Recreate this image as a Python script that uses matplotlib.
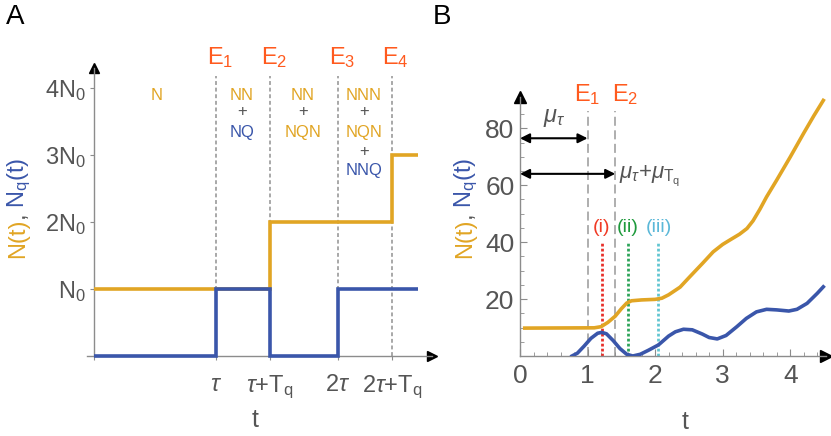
import numpy as np
import matplotlib.pyplot as plt

plt.rcParams['font.family'] = ['Liberation Sans', 'DejaVu Sans']
plt.rcParams['mathtext.fontset'] = 'custom'
plt.rcParams['mathtext.rm'] = 'Liberation Sans'
plt.rcParams['mathtext.it'] = 'Liberation Sans:italic'

YEL = '#E1A524'
BLU = '#3A56AA'
ORG = '#FF5A1E'
GRY = '#555555'
LGR = '#A8A8A8'

# ---- panel A data (time in units of tau, counts in units of N0)
tau = 1.0
Tq = 0.443
edges_A = [0, tau, tau + Tq, 2 * tau, 2 * tau + Tq, 2.656]
N_A = [1, 1, 2, 2, 3]
Nq_A = [0, 1, 0, 1, 1]
xtick_A = [tau, tau + Tq, 2 * tau, 2 * tau + Tq]
xlab_A = [r'$\tau$', r'$\tau$+T$_\mathregular{q}$', r'2$\tau$', r'2$\tau$+T$_\mathregular{q}$']
ytick_A = [1, 2, 3, 4]
ylab_A = [r'N$_0$', r'2N$_0$', r'3N$_0$', r'4N$_0$']
events_A = ['E$_1$', 'E$_2$', 'E$_3$', 'E$_4$']

# ---- panel B data
tN = [0.07, 1.10, 1.20, 1.30, 1.41, 1.50, 1.58, 1.65, 1.80, 2.00, 2.10, 2.20, 2.37, 2.50,
      2.70, 2.86, 3.00, 3.11, 3.25, 3.36, 3.45, 3.55, 3.65, 3.80, 4.00, 4.20, 4.35, 4.49]
N_B = [9.8, 9.9, 10.3, 11.8, 14.0, 16.6, 18.6, 19.4, 19.7, 19.9, 20.3, 21.5, 24.2, 27.5,
       32.5, 36.6, 39.2, 40.8, 42.8, 44.8, 47.5, 51.5, 55.9, 61.8, 69.9, 78.3, 84.4, 89.8]
tQ = [0.77, 0.85, 0.95, 1.05, 1.15, 1.21, 1.28, 1.38, 1.48, 1.58, 1.67, 1.78, 1.90, 2.05,
      2.20, 2.30, 2.42, 2.55, 2.70, 2.80, 2.92, 3.05, 3.21, 3.35, 3.50, 3.65, 3.80, 3.98,
      4.10, 4.25, 4.40, 4.49]
Nq_B = [0.0, 1.0, 3.5, 6.2, 8.0, 8.3, 7.8, 5.4, 2.6, 0.6, 0.0, 0.6, 2.0, 3.9,
        7.0, 8.5, 9.4, 9.2, 7.7, 6.5, 6.0, 7.2, 10.3, 13.2, 15.5, 16.4, 16.2, 15.8,
        16.4, 18.5, 22.0, 24.3]
mu_tau = 1.0
mu_tau_Tq = 1.41
marks_t = [1.21, 1.6, 2.05]
marks_lab = ['(i)', '(ii)', '(iii)']
marks_col = ['#E8302A', '#2EA55A', '#62C6D2']
marks_txt = ['#F03A25', '#1E9A3C', '#5BB8D8']

W, H = 831, 436
fig = plt.figure(figsize=(W / 100, H / 100), dpi=100)


def fx(px):
    return px / W


def fy(py):
    return 1 - py / H


def style_axes(ax):
    for s in ['top', 'right']:
        ax.spines[s].set_visible(False)
    for s in ['left', 'bottom']:
        ax.spines[s].set_color('#8c8c8c')
        ax.spines[s].set_linewidth(1.0)
    ax.tick_params(colors='#8c8c8c', labelcolor=GRY, labelsize=17)


# ================= panel A
axA = fig.add_axes([fx(86.7), fy(356), fx(432 - 86.7), (356 - 68) / H])
style_axes(axA)
axA.set_xlim(-0.06, 2.77)
axA.set_ylim(0, 4.3)
axA.spines['left'].set_position(('data', 0))
axA.plot(1, 0, '>', color='k', ms=7, transform=axA.get_yaxis_transform(), clip_on=False)
axA.plot(0, 1, '^', color='k', ms=7, transform=axA.get_xaxis_transform(), clip_on=False)

for x in xtick_A:
    axA.plot([x, x], [0, 4.18], color=LGR, lw=1.4, ls=(0, (2.0, 1.4)), zorder=1)

axA.stairs(N_A, edges_A, baseline=None, color=YEL, lw=2.6, zorder=3, clip_on=False)
axA.stairs(Nq_A, edges_A, baseline=None, color=BLU, lw=2.6, zorder=4, clip_on=False)

axA.set_xticks([0] + xtick_A)
axA.set_xticklabels([''] + xlab_A)
axA.set_yticks(ytick_A)
axA.set_yticklabels(ylab_A)
axA.tick_params(axis='both', direction='out', length=3, pad=3)
axA.tick_params(axis='x', pad=10)

for x, e in zip(xtick_A, events_A):
    axA.text(x + 0.03, 4.45, e, color=ORG, fontsize=17, ha='center', va='center', clip_on=False)

ann_fs = 12
axA.text((157 - 94) / 122, (356 - 95) / 67, 'N', color=YEL, fontsize=ann_fs, ha='center', va='center')
cols = [
    ((242 - 94) / 122, [('NN', YEL), ('+', GRY), ('NQ', BLU)]),
    ((303 - 94) / 122, [('NN', YEL), ('+', GRY), ('NQN', YEL)]),
    ((364 - 94) / 122, [('NNN', YEL), ('+', GRY), ('NQN', YEL), ('+', GRY), ('NNQ', BLU)]),
]
rows_py = [95, 111, 132, 151, 170]
for x, items in cols:
    for (s, c), py in zip(items, rows_py):
        axA.text(x, (356 - py) / 67, s, color=c, fontsize=ann_fs, ha='center', va='center')

fig.text(fx(255), fy(420), 't', color=GRY, fontsize=18, ha='center', va='center')
fig.text(fx(15), fy(17), 'A', color='k', fontsize=20, ha='center', va='center')

# ================= panel B
axB = fig.add_axes([fx(520), fy(356), fx(826 - 520), (356 - 97) / H])
style_axes(axB)
axB.set_xlim(0, 4.53)
axB.set_ylim(0, 91)
axB.plot(1, 0, '>', color='k', ms=8, transform=axB.get_yaxis_transform(), clip_on=False)
axB.plot(0, 1, '^', color='k', ms=8, transform=axB.get_xaxis_transform(), clip_on=False)

for x in [mu_tau, mu_tau_Tq]:
    axB.plot([x, x], [0, 86], color=LGR, lw=1.3, ls=(0, (5, 2.5)), zorder=1)
for x, c in zip(marks_t, marks_col):
    axB.plot([x, x], [0, 40], color=c, lw=2.0, ls=(0, (1.0, 0.8)), zorder=2)
for x, s, c in zip(marks_t, marks_lab, marks_txt):
    axB.text(x, 45, s, color=c, fontsize=14, ha='center', va='center')

axB.plot(tN, N_B, color=YEL, lw=2.6, zorder=3, solid_joinstyle='round')
axB.plot(tQ, Nq_B, color=BLU, lw=2.6, zorder=4, solid_joinstyle='round')

axB.set_xticks([0, 1, 2, 3, 4])
axB.set_xticks(np.arange(0, 4.5, 0.2), minor=True)
axB.set_yticks([20, 40, 60, 80])
axB.set_yticks(np.arange(0, 90, 5), minor=True)
axB.tick_params(which='major', direction='in', length=5, pad=4)
axB.tick_params(which='minor', direction='in', length=3, colors='#8c8c8c')
axB.tick_params(axis='x', which='major', labelsize=19, pad=6)
axB.tick_params(axis='y', which='major', labelsize=19)

arr = dict(arrowstyle='<|-|>', color='k', lw=1.5, mutation_scale=14, shrinkA=0, shrinkB=0)
axB.annotate('', xy=(mu_tau, 76.5), xytext=(0, 76.5), arrowprops=arr, annotation_clip=False)
axB.annotate('', xy=(mu_tau_Tq, 64), xytext=(0, 64), arrowprops=arr, annotation_clip=False)
axB.text(0.5, 83.5, r'$\mu_\tau$', color=GRY, fontsize=17, ha='center', va='center')
axB.text(1.47, 63.5, r'$\mu_\tau$+$\mu_{\mathrm{T_q}}$', color=GRY, fontsize=16, ha='left', va='center')
axB.text(1.0, 92, 'E$_1$', color=ORG, fontsize=17, ha='center', va='center', clip_on=False)
axB.text(1.55, 92, 'E$_2$', color=ORG, fontsize=17, ha='center', va='center', clip_on=False)

fig.text(fx(685), fy(422), 't', color=GRY, fontsize=18, ha='center', va='center')
fig.text(fx(442), fy(17), 'B', color='k', fontsize=20, ha='center', va='center')

# two-coloured rotated y labels
for bx in [24, 471]:
    fig.text(fx(bx), fy(258), 'N(t)', color=YEL, fontsize=17, rotation=90,
             rotation_mode='anchor', ha='left', va='baseline')
    fig.text(fx(bx), fy(218), ',', color=GRY, fontsize=17, rotation=90,
             rotation_mode='anchor', ha='left', va='baseline')
    fig.text(fx(bx), fy(208), r'N$_\mathregular{q}$(t)', color=BLU, fontsize=17, rotation=90,
             rotation_mode='anchor', ha='left', va='baseline')

fig.savefig('out.png', dpi=100)
